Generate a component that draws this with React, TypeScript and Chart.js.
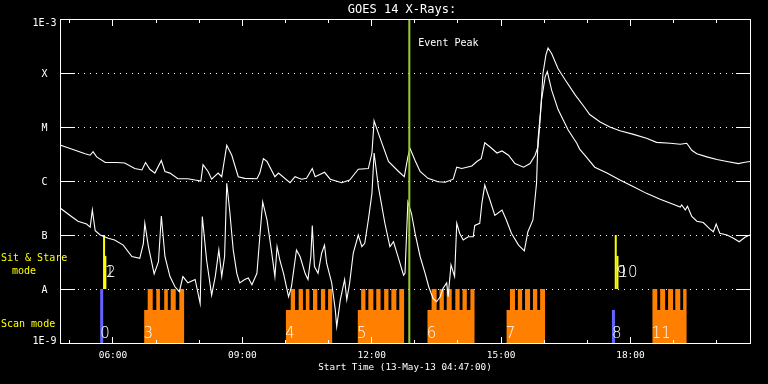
import React, { useEffect, useRef } from "react";
import { Chart, registerables } from "chart.js";

Chart.register(...registerables);

// ---- axis range (minutes since midnight, 13-May-13) ----
const START_MIN = 287; // 04:47
const END_MIN = 1247; // 20:47
const TITLE = "GOES 14 X-Rays:";
const X_TITLE = "Start Time (13-May-13 04:47:00)";

const yTickValues = [1e-9, 1e-8, 1e-7, 1e-6, 1e-5, 1e-4, 1e-3];
const yTickLabels = ["1E-9", "A", "B", "C", "M", "X", "1E-3"];
const xTickValues = [360, 540, 720, 900, 1080];
const xTickLabels = ["06:00", "09:00", "12:00", "15:00", "18:00"];
const xMinorTickValues = [300, 360, 420, 480, 540, 600, 660, 720, 780, 840, 900, 960, 1020, 1080, 1140, 1200];

// ---- GOES long channel (1-8 A) ----
const longTimes = [288,308,322,329,333,338,350,366,377,391,401,406,412,419,428,433,440,451,465,475,483,486,493,498,507,512,519,526,535,544,561,565,570,575,586,591,607,614,623,630,638,642,655,663,679,690,702,716,721,724,730,744,758,766,771,774,781,788,799,813,823,834,839,846,860,867,873,878,885,895,902,911,920,932,941,948,952,955,959,963,966,971,980,990,1004,1017,1024,1038,1052,1066,1085,1103,1117,1136,1150,1159,1166,1173,1187,1201,1215,1231,1238,1247];
const longFlux = [4.6e-6,3.7e-6,3.2e-6,3.0e-6,3.5e-6,2.8e-6,2.2e-6,2.2e-6,2.15e-6,1.7e-6,1.6e-6,2.2e-6,1.65e-6,1.4e-6,2.4e-6,1.5e-6,1.4e-6,1.1e-6,1.1e-6,1.04e-6,1.0e-6,2.0e-6,1.5e-6,1.08e-6,1.4e-6,1.2e-6,4.6e-6,3.0e-6,1.2e-6,1.12e-6,1.1e-6,1.4e-6,2.6e-6,2.3e-6,1.2e-6,1.4e-6,9.3e-7,1.2e-6,1.08e-6,1.12e-6,1.7e-6,1.2e-6,1.45e-6,1.08e-6,9.3e-7,1.04e-6,1.65e-6,1.7e-6,3.3e-6,1.3e-5,7.6e-6,2.3e-6,1.5e-6,1.2e-6,2.8e-6,4.0e-6,2.4e-6,1.5e-6,1.12e-6,9.7e-7,9.5e-7,1.08e-6,1.8e-6,1.7e-6,1.9e-6,2.3e-6,2.6e-6,5.1e-6,4.3e-6,3.3e-6,3.6e-6,3.0e-6,2.1e-6,1.8e-6,2.1e-6,3.0e-6,4.3e-6,1.35e-5,9.9e-5,2.15e-4,2.9e-4,2.3e-4,1.2e-4,7.4e-5,3.9e-5,2.3e-5,1.7e-5,1.25e-5,1.0e-5,8.5e-6,7.3e-6,6.2e-6,5.2e-6,5.0e-6,4.8e-6,5.0e-6,3.7e-6,3.2e-6,2.8e-6,2.5e-6,2.3e-6,2.1e-6,2.2e-6,2.3e-6];

// ---- GOES short channel (0.5-4 A) ----
const shortTimes = [288,301,312,324,329,332,336,343,354,363,375,387,398,403,405,410,418,424,428,433,440,447,453,458,465,475,482,485,491,498,503,508,512,516,519,523,528,533,537,544,549,554,561,565,569,575,581,586,589,593,598,605,609,616,621,628,632,636,638,641,646,651,655,658,665,670,672,677,683,686,690,695,702,707,711,716,721,724,730,739,746,751,758,765,767,771,776,781,788,795,800,806,811,816,820,825,827,831,836,839,843,848,855,862,864,871,874,878,885,892,902,908,915,925,933,938,945,950,952,957,962,965,971,980,994,1006,1010,1020,1031,1048,1066,1085,1103,1122,1140,1150,1152,1157,1160,1166,1173,1182,1191,1196,1200,1205,1215,1224,1232,1240,1247];
const shortFlux = [3.1e-7,2.3e-7,1.8e-7,1.6e-7,1.4e-7,2.9e-7,1.2e-7,1.0e-7,8.7e-8,8.1e-8,6.5e-8,4.0e-8,3.7e-8,7.0e-8,1.65e-7,6.1e-8,1.9e-8,3.2e-8,2.25e-7,4.0e-8,1.7e-8,1.1e-8,8.9e-9,1.7e-8,1.3e-8,1.5e-8,5.4e-9,2.2e-7,3.4e-8,7.7e-9,1.7e-8,5.3e-8,1.7e-8,4.0e-8,9.1e-7,2.9e-7,5.3e-8,1.95e-8,1.3e-8,1.5e-8,1.6e-8,1.2e-8,1.95e-8,9.3e-8,4.1e-7,1.9e-7,5.3e-8,1.7e-8,6.1e-8,3.4e-8,1.95e-8,7.2e-9,1.1e-8,5.3e-8,4.0e-8,1.95e-8,1.5e-8,4.0e-8,1.5e-7,2.6e-8,1.95e-8,4.6e-8,6.5e-8,3.0e-8,1.3e-8,4.1e-9,2.0e-9,6.3e-9,1.5e-8,6.3e-9,1.3e-8,4.6e-8,1.0e-7,6.1e-8,7.0e-8,1.9e-7,5.9e-7,3.3e-6,7.8e-7,1.65e-7,6.1e-8,7.5e-8,3.7e-8,1.8e-8,1.95e-8,4.1e-7,2.5e-7,1.08e-7,4.0e-8,1.95e-8,1.1e-8,6.7e-9,5.8e-9,7.2e-9,1.03e-8,1.3e-8,7.2e-9,2.8e-8,1.7e-8,1.65e-7,1.08e-7,8.1e-8,9.3e-8,9.3e-8,1.5e-7,1.65e-7,3.9e-7,8.4e-7,4.5e-7,2.3e-7,2.9e-7,1.9e-7,1.08e-7,6.5e-8,5.1e-8,1.15e-7,1.9e-7,9.1e-7,5.7e-6,3.2e-5,8.5e-5,1.06e-4,4.8e-5,2.1e-5,8.8e-6,5.0e-6,3.9e-6,2.7e-6,1.8e-6,1.4e-6,1.04e-6,7.8e-7,5.9e-7,4.6e-7,3.7e-7,3.3e-7,3.6e-7,2.9e-7,3.4e-7,2.2e-7,1.8e-7,1.7e-7,1.3e-7,1.15e-7,1.6e-7,1.08e-7,1.0e-7,8.7e-8,7.5e-8,9.1e-8,1.0e-7];

// ---- event peak ----
const peakTime = 773; // 12:53
const peakLabel = "Event Peak";

// ---- scan-mode rasters (orange) ----
const SCAN_FLOOR = 1e-9;
const SCAN_BASE = 4.1e-9;
const SCAN_TOP = 1e-8;
const scanBlockIds = [3, 4, 5, 6, 7, 11];
const scanBlockStart = [404, 601, 701, 798, 908, 1111];
const scanBlockEnd = [460, 666, 766, 864, 962, 1159];
const scanToothStart = [
  [409, 421, 432, 441, 453],
  [608, 619, 629, 639, 650, 660],
  [706, 716, 727, 738, 748, 759],
  [804, 815, 825, 837, 847, 858],
  [913, 924, 934, 945, 955],
  [1111, 1122, 1133, 1143, 1154],
];
const scanToothEnd = [
  [416, 426, 437, 448, 460],
  [614, 625, 634, 645, 656, 666],
  [712, 723, 733, 744, 755, 766],
  [811, 821, 832, 843, 853, 864],
  [920, 930, 941, 951, 962],
  [1118, 1129, 1140, 1150, 1159],
];

// ---- single scans (blue) ----
const singleScanIds = [0, 8];
const singleScanTimes = [345, 1057];
const singleScanTops = [1e-8, 4.1e-9];

// ---- sit & stare (yellow) ----
const SIT_FLOOR = 1e-8;
const sitStareIds = [1, 2, 9, 10];
const sitStareTimes = [348.3, 350.1, 1060.2, 1062.6];
const sitStareTops = [1e-7, 4.1e-8, 1e-7, 4.1e-8];

const ORANGE = "#FF8000";
const BLUE = "#6464FF";
const YELLOW = "#FFFF00";
const GREEN = "#9ACD32";
const MONO = "'DejaVu Sans Mono', monospace";

const decorPlugin = {
  id: "goesDecor",
  beforeDatasetsDraw(chart: any) {
    const { ctx, chartArea: a, scales } = chart;
    const y = scales.y;
    ctx.save();
    ctx.fillStyle = "#FFFFFF";
    for (let i = 1; i < yTickValues.length - 1; i++) {
      const py = Math.round(y.getPixelForValue(yTickValues[i]));
      for (let px = a.left + 18; px <= a.right - 17; px += 6) ctx.fillRect(px, py, 1, 1);
      ctx.fillRect(a.left, py, 15, 1);
      ctx.fillRect(a.right - 14, py, 15, 1);
    }
    ctx.restore();
  },
  afterDatasetsDraw(chart: any) {
    const { ctx, chartArea: a, scales } = chart;
    const x = scales.x;
    ctx.save();
    ctx.fillStyle = "#FFFFFF";
    const L = Math.round(a.left), R = Math.round(a.right), T = Math.round(a.top), B = Math.round(a.bottom);
    ctx.fillRect(L, T, R - L + 1, 1);
    ctx.fillRect(L, B, R - L + 1, 1);
    ctx.fillRect(L, T, 1, B - T + 1);
    ctx.fillRect(R, T, 1, B - T + 1);
    for (const t of xMinorTickValues) {
      const px = Math.round(x.getPixelForValue(t));
      const major = xTickValues.includes(t);
      const len = major ? 6 : 3;
      ctx.fillRect(px, B - len, 1, len);
      ctx.fillRect(px, T + 1, 1, len);
    }
    ctx.restore();
  },
  afterDraw(chart: any) {
    const { ctx, chartArea: a, scales } = chart;
    const x = scales.x;
    const y = scales.y;
    ctx.save();
    ctx.fillStyle = "#FFFFFF";
    ctx.textBaseline = "middle";
    // title
    ctx.font = `12px ${MONO}`;
    ctx.textAlign = "center";
    ctx.fillText(TITLE, (a.left + a.right) / 2 - 3, 10);
    // y labels
    ctx.font = `10px ${MONO}`;
    for (let i = 0; i < yTickValues.length; i++) {
      let py = y.getPixelForValue(yTickValues[i]) + 1;
      if (i === 0) py -= 3;
      if (i === yTickValues.length - 1) py += 3;
      ctx.fillText(yTickLabels[i], 44.5, py);
    }
    // x labels
    ctx.font = `9.5px ${MONO}`;
    for (let i = 0; i < xTickValues.length; i++) {
      ctx.fillText(xTickLabels[i], x.getPixelForValue(xTickValues[i]) + 0.5, 356);
    }
    ctx.font = `9.3px ${MONO}`;
    ctx.fillText(X_TITLE, (a.left + a.right) / 2, 368);
    // event peak label
    ctx.textAlign = "left";
    ctx.font = `10px ${MONO}`;
    ctx.fillText(peakLabel, x.getPixelForValue(peakTime) + 9, 43);
    // mode labels
    ctx.fillStyle = YELLOW;
    ctx.fillText("Sit & Stare", 1, 258);
    ctx.fillText("mode", 12, 271);
    ctx.fillText("Scan mode", 1, 324);
    // event ids
    ctx.fillStyle = "#FFFFFF";
    ctx.font = `200 15px 'DejaVu Sans', sans-serif`;
    ctx.textBaseline = "alphabetic";
    for (let i = 0; i < scanBlockIds.length; i++) {
      ctx.fillText(String(scanBlockIds[i]), x.getPixelForValue(scanBlockStart[i]) - 0.5, 338);
    }
    for (let i = 0; i < singleScanIds.length; i++) {
      ctx.fillText(String(singleScanIds[i]), x.getPixelForValue(singleScanTimes[i]) - 1.5, 338);
    }
    for (let i = 0; i < sitStareIds.length; i++) {
      ctx.fillText(String(sitStareIds[i]), x.getPixelForValue(sitStareTimes[i]) + 1, 277);
    }
    ctx.restore();
  },
};

function buildBlock(i: number) {
  const pts: { x: number; y: number }[] = [{ x: scanBlockStart[i], y: SCAN_BASE }];
  const ts = scanToothStart[i];
  const te = scanToothEnd[i];
  for (let k = 0; k < ts.length; k++) {
    pts.push({ x: ts[k], y: SCAN_TOP });
    pts.push({ x: te[k], y: SCAN_BASE });
  }
  if (te[te.length - 1] < scanBlockEnd[i]) pts.push({ x: scanBlockEnd[i], y: SCAN_BASE });
  return pts;
}

export default function App() {
  const ref = useRef<HTMLCanvasElement | null>(null);
  useEffect(() => {
    document.body.style.margin = "0";
    document.body.style.background = "#000";
    const canvas = ref.current;
    if (!canvas) return;

    const datasets: any[] = [];
    datasets.push({
      label: "Event peak",
      data: [{ x: peakTime, y: 1e-9 }, { x: peakTime, y: 1e-3 }],
      borderColor: GREEN,
      borderWidth: 2,
      pointRadius: 0,
      order: 0,
    });
    datasets.push({
      label: "1-8 A",
      data: longTimes.map((t, i) => ({ x: t, y: longFlux[i] })),
      borderColor: "#FFFFFF",
      borderWidth: 1.1,
      pointRadius: 0,
      order: 1,
    });
    datasets.push({
      label: "0.5-4 A",
      data: shortTimes.map((t, i) => ({ x: t, y: shortFlux[i] })),
      borderColor: "#FFFFFF",
      borderWidth: 1.1,
      pointRadius: 0,
      order: 1,
    });
    for (let i = 0; i < sitStareIds.length; i++) {
      datasets.push({
        label: "Sit & Stare " + sitStareIds[i],
        data: [{ x: sitStareTimes[i], y: SIT_FLOOR }, { x: sitStareTimes[i], y: sitStareTops[i] }],
        borderColor: YELLOW,
        borderWidth: 2,
        borderCapStyle: "butt",
        pointRadius: 0,
        order: 3,
      });
    }
    for (let i = 0; i < singleScanIds.length; i++) {
      datasets.push({
        label: "Scan " + singleScanIds[i],
        data: [{ x: singleScanTimes[i], y: SCAN_FLOOR }, { x: singleScanTimes[i], y: singleScanTops[i] }],
        borderColor: BLUE,
        borderWidth: 3,
        borderCapStyle: "butt",
        pointRadius: 0,
        order: 3,
      });
    }
    for (let i = 0; i < scanBlockIds.length; i++) {
      datasets.push({
        label: "Scan " + scanBlockIds[i],
        data: buildBlock(i),
        stepped: true,
        fill: "start",
        backgroundColor: ORANGE,
        borderColor: "rgba(0,0,0,0)",
        borderWidth: 0,
        pointRadius: 0,
        order: 5,
      });
    }

    const chart = new Chart(canvas, {
      type: "line",
      data: { datasets },
      options: {
        responsive: false,
        animation: false,
        devicePixelRatio: 1,
        events: [],
        layout: { padding: { left: 60, top: 19, right: 18, bottom: 41 } },
        elements: { line: { tension: 0 }, point: { radius: 0 } },
        scales: {
          x: { type: "linear", min: START_MIN, max: END_MIN, bounds: "data", display: false },
          y: { type: "logarithmic", min: 1e-9, max: 1e-3, bounds: "data", display: false },
        },
        plugins: {
          legend: { display: false },
          tooltip: { enabled: false },
          title: { display: false },
        },
      } as any,
      plugins: [decorPlugin as any],
    });
    return () => chart.destroy();
  }, []);

  return (
    <div style={{ width: 768, height: 384, background: "#000" }}>
      <canvas ref={ref} width={768} height={384} style={{ display: "block", width: 768, height: 384 }} />
    </div>
  );
}
